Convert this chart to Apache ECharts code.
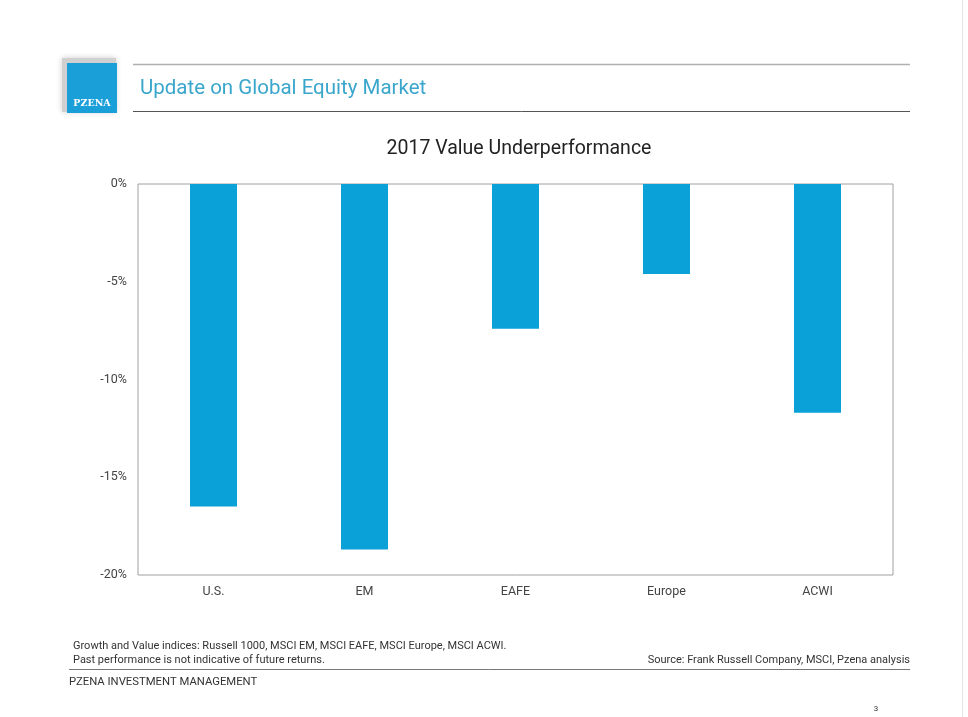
<!DOCTYPE html>
<html>
<head>
<meta charset="utf-8">
<script src="https://cdn.jsdelivr.net/npm/echarts@6/dist/echarts.min.js"></script>
<style>
html,body{margin:0;padding:0;background:#fff;}
#main{width:968px;height:717px;}
</style>
</head>
<body>
<div id="main"></div>
<script>
const categories = ['U.S.', 'EM', 'EAFE', 'Europe', 'ACWI'];
const values = [-16.5, -18.7, -7.4, -4.6, -11.7];
const chartTitle = '2017 Value Underperformance';
const headerTitle = 'Update on Global Equity Market';
const footnote1 = 'Growth and Value indices: Russell 1000, MSCI EM, MSCI EAFE, MSCI Europe, MSCI ACWI.';
const footnote2 = 'Past performance is not indicative of future returns.';
const sourceText = 'Source: Frank Russell Company, MSCI, Pzena analysis';
const companyText = 'PZENA INVESTMENT MANAGEMENT';
const pageNum = '3';

const FONT = 'Roboto, "DejaVu Sans", sans-serif';
const chart = echarts.init(document.getElementById('main'));
chart.setOption({
  backgroundColor: '#ffffff',
  animation: false,
  title: {
    text: chartTitle,
    left: 514, top: 134, textAlign: 'center',
    textStyle: {fontFamily: FONT, fontSize: 19.5, fontWeight: 'normal', color: '#222'}
  },
  grid: {left: 138, right: 75, top: 184, bottom: 142, show: true, borderColor: '#a0a0a0', borderWidth: 1, backgroundColor: 'transparent'},
  xAxis: {
    type: 'category', data: categories, position: 'bottom',
    axisLine: {show: false}, axisTick: {show: false},
    axisLabel: {fontFamily: FONT, fontSize: 12.5, color: '#444', margin: 10}
  },
  yAxis: {
    type: 'value', min: -20, max: 0, interval: 5,
    axisLine: {show: false}, axisTick: {show: false}, splitLine: {show: false},
    axisLabel: {fontFamily: FONT, fontSize: 12.5, color: '#444', margin: 11, formatter: v => v + '%'}
  },
  series: [{
    type: 'bar', data: values, barWidth: 47,
    itemStyle: {color: '#0aa0d8'}
  }],
  graphic: [
    {type: 'rect', shape: {x: 62, y: 58, width: 54, height: 54}, style: {fill: '#d0d0d0', shadowBlur: 6, shadowColor: 'rgba(0,0,0,0.2)'}, z: 1},
    {type: 'rect', shape: {x: 67, y: 63, width: 50, height: 50}, style: {fill: '#1a9fd9'}, z: 2},
    {type: 'text', x: 92, y: 104, style: {text: 'PZENA', fill: '#fff', font: 'bold 9.5px "DejaVu Serif", serif', textAlign: 'center', textVerticalAlign: 'middle'}, z: 3},
    {type: 'line', shape: {x1: 133, y1: 64.5, x2: 910, y2: 64.5}, style: {stroke: '#b0b0b0', lineWidth: 1.5}},
    {type: 'text', x: 140, y: 89, style: {text: headerTitle, fill: '#3aa6cc', font: '20.5px ' + FONT, textVerticalAlign: 'middle'}},
    {type: 'line', shape: {x1: 133, y1: 111.5, x2: 910, y2: 111.5}, style: {stroke: '#555', lineWidth: 1}},
    {type: 'text', x: 73, y: 646, style: {text: footnote1, fill: '#333', font: '11px ' + FONT, textVerticalAlign: 'middle'}},
    {type: 'text', x: 73, y: 660, style: {text: footnote2, fill: '#333', font: '11px ' + FONT, textVerticalAlign: 'middle'}},
    {type: 'text', x: 910, y: 660, style: {text: sourceText, fill: '#333', font: '11px ' + FONT, textAlign: 'right', textVerticalAlign: 'middle'}},
    {type: 'line', shape: {x1: 69, y1: 669.5, x2: 910, y2: 669.5}, style: {stroke: '#777', lineWidth: 1}},
    {type: 'text', x: 69, y: 682, style: {text: companyText, fill: '#333', font: '11.3px ' + FONT, textVerticalAlign: 'middle'}},
    {type: 'text', x: 876, y: 709, style: {text: pageNum, fill: '#333', font: '8px ' + FONT, textAlign: 'center', textVerticalAlign: 'middle'}},
    {type: 'line', shape: {x1: 962.5, y1: 0, x2: 962.5, y2: 717}, style: {stroke: '#e4e4e4', lineWidth: 1}}
  ]
});
</script>
</body>
</html>
